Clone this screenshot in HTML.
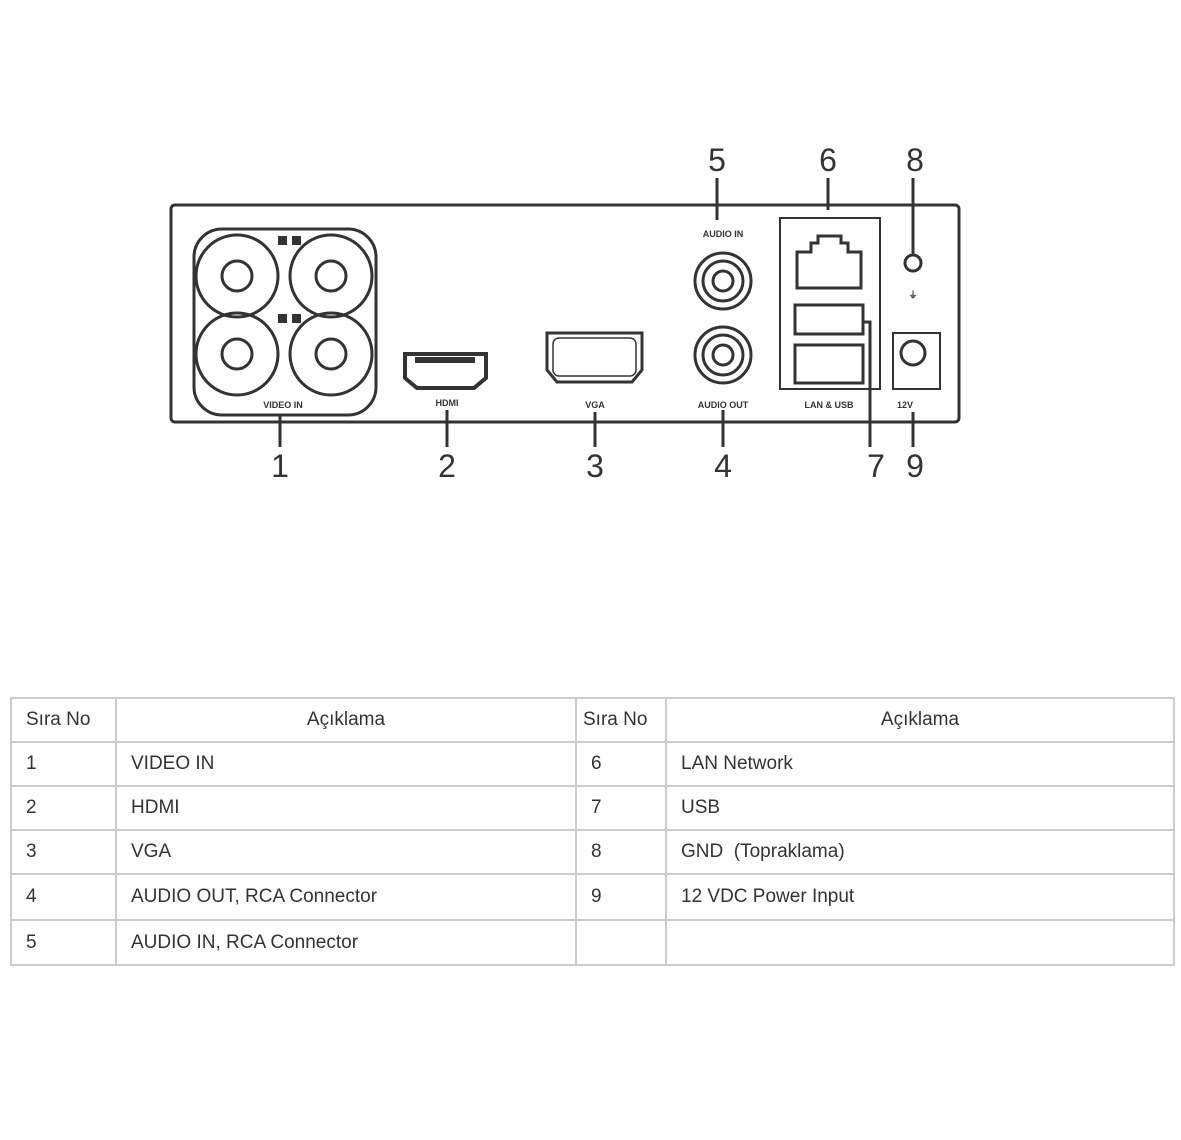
<!DOCTYPE html>
<html><head><style>
body{margin:0;background:#fff;width:1181px;height:1140px;position:relative;font-family:"Liberation Sans",sans-serif;overflow:hidden}
svg{position:absolute;left:0;top:0}
table{position:absolute;left:10px;top:697px;border-collapse:collapse;table-layout:fixed;width:1163px;font-family:"Liberation Sans",sans-serif;color:#333;font-size:19px}
td{border:2px solid #ccc;padding:0 0 0 14px;height:42px;white-space:nowrap;overflow:hidden}
</style></head><body>
<svg width="1181" height="700" viewBox="0 0 1181 700">
<g fill="none" stroke="#333" stroke-width="3">
<rect x="171" y="205" width="788" height="217" rx="4"/>
<rect x="194" y="229" width="182" height="186" rx="28"/>
<circle cx="237" cy="276" r="41"/><circle cx="237" cy="276" r="15"/>
<circle cx="331" cy="276" r="41"/><circle cx="331" cy="276" r="15"/>
<circle cx="237" cy="354" r="41"/><circle cx="237" cy="354" r="15"/>
<circle cx="331" cy="354" r="41"/><circle cx="331" cy="354" r="15"/>
<path d="M405 354 H486 V378 L474 388 H417 L405 378 Z" stroke-width="4"/>
<path d="M547 333 H642 V370 L632 382 H557 L547 370 Z" stroke-width="3"/>
<rect x="553" y="338" width="83" height="38" rx="6" stroke-width="1.5"/>
<circle cx="723" cy="281" r="28"/><circle cx="723" cy="281" r="20"/><circle cx="723" cy="281" r="10"/>
<circle cx="723" cy="355" r="28"/><circle cx="723" cy="355" r="20"/><circle cx="723" cy="355" r="10"/>
<rect x="780" y="218" width="100" height="171" stroke-width="2"/>
<path d="M797 288 V252 H811 V243 H818 V236 H841 V243 H848 V252 H861 V288 Z"/>
<rect x="795" y="305" width="68" height="29"/><rect x="795" y="345" width="68" height="38"/>
<circle cx="913" cy="263" r="8"/>
<rect x="893" y="333" width="47" height="56" stroke-width="2"/>
<circle cx="913" cy="353" r="12"/>
<path d="M280 415 V447 M447 410 V447 M595 412 V447 M723 410 V447 M717 178 V220 M828 178 V210 M913 178 V255 M913 412 V447 M863 322 H870 V447"/>
</g>
<g fill="#333">
<rect x="278" y="236" width="9" height="9"/><rect x="292" y="236" width="9" height="9"/>
<rect x="278" y="314" width="9" height="9"/><rect x="292" y="314" width="9" height="9"/>
<rect x="415" y="357" width="60" height="6"/>
<g font-size="9" font-weight="bold" text-anchor="middle">
<text x="283" y="408">VIDEO IN</text><text x="447" y="406">HDMI</text><text x="595" y="408">VGA</text>
<text x="723" y="237">AUDIO IN</text><text x="723" y="408">AUDIO OUT</text><text x="829" y="408">LAN &amp; USB</text><text x="905" y="408">12V</text><text x="913" y="298">⏚</text>
</g>
<g font-size="32" text-anchor="middle" font-family="Liberation Sans,sans-serif">
<text x="280" y="477">1</text><text x="447" y="477">2</text><text x="595" y="477">3</text><text x="723" y="477">4</text>
<text x="717" y="171">5</text><text x="828" y="171">6</text><text x="915" y="171">8</text>
<text x="876" y="477">7</text><text x="915" y="477">9</text>
</g>
</g>
</svg>
<table>
<colgroup><col style="width:105px"><col style="width:460px"><col style="width:90px"><col style="width:508px"></colgroup>
<tr style="height:44px"><td>Sıra No</td><td style="text-align:center;padding:0">Açıklama</td><td style="padding-left:6px">Sıra No</td><td style="text-align:center;padding:0">Açıklama</td></tr>
<tr style="height:44px"><td>1</td><td>VIDEO IN</td><td>6</td><td>LAN Network</td></tr>
<tr style="height:44px"><td>2</td><td>HDMI</td><td>7</td><td>USB</td></tr>
<tr style="height:44px"><td>3</td><td>VGA</td><td>8</td><td>GND &nbsp;(Topraklama)</td></tr>
<tr style="height:46px"><td>4</td><td>AUDIO OUT, RCA Connector</td><td>9</td><td>12 VDC Power Input</td></tr>
<tr style="height:45px"><td>5</td><td>AUDIO IN, RCA Connector</td><td></td><td></td></tr>
</table>
</body></html>
